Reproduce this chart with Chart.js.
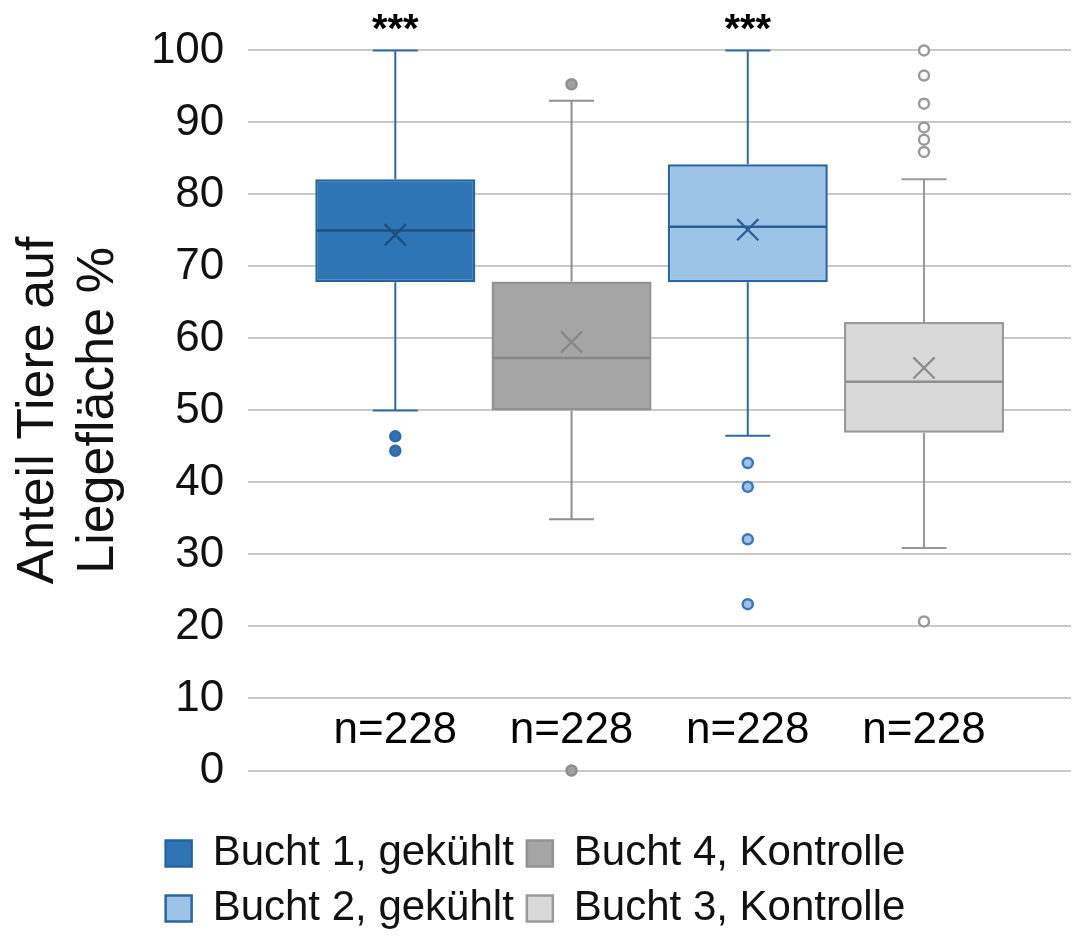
<!DOCTYPE html>
<html>
<head>
<meta charset="utf-8">
<script src="https://cdn.jsdelivr.net/npm/chart.js@4.4.1/dist/chart.umd.min.js"></script>
<style>
    html, body { margin: 0; padding: 0; background: #ffffff; overflow: hidden; }
    #wrap { width: 1073px; height: 943px; }
</style>
</head>
<body>
<div id="wrap"><canvas id="boxChart"></canvas></div>
<script>
// Box plot data
const groups = ['Bucht 1, gekühlt', 'Bucht 4, Kontrolle', 'Bucht 2, gekühlt', 'Bucht 3, Kontrolle'];
const whiskerLow = [50, 34.9, 46.5, 30.9];
const q1 = [67.8, 50, 67.8, 46.9];
const median = [75, 57.3, 75.5, 54];
const q3 = [82.1, 67.9, 84.2, 62.3];
const whiskerHigh = [100, 93, 100, 82.1];
const means = [74.4, 59.5, 75.1, 55.9];
const outliers = [
    [46.4, 44.4],
    [95.3, 0],
    [42.7, 39.4, 32.1, 23.1],
    [100, 96.5, 92.6, 89.3, 87.6, 85.9, 20.7]
];
const sampleSizes = [228, 228, 228, 228];
const significance = ['***', '', '***', ''];
const yTicks = [0, 10, 20, 30, 40, 50, 60, 70, 80, 90, 100];

// Colours per group
const styles = [
    { fill: '#2e75b6', border: '#2763a0', whisker: '#2f6aa6', median: '#1f4f80', mean: '#1f4e79', dotFill: '#2e75b6', dotBorder: '#2e6aa8' },
    { fill: '#a5a5a5', border: '#929292', whisker: '#8f8f8f', median: '#888888', mean: '#868686', dotFill: '#a0a0a0', dotBorder: '#8f8f8f' },
    { fill: '#9dc3e6', border: '#2b65a0', whisker: '#2f6aa6', median: '#2a5f94', mean: '#2b5f94', dotFill: '#9dc3e6', dotBorder: '#3a78b8' },
    { fill: '#d9d9d9', border: '#999999', whisker: '#999999', median: '#8f8f8f', mean: '#8c8c8c', dotFill: '#ffffff', dotBorder: '#999999' }
];

const FONT = '"Liberation Sans", Arial, sans-serif';
Chart.defaults.font.family = FONT;
Chart.defaults.color = '#000000';

const MEAN_INDEX = 0;
const OUTLIER_START = 1;
const BAR_START = OUTLIER_START + groups.length;

// Datasets: drawn last-to-first, so means end up on top
const datasets = [];
datasets.push({
    type: 'scatter',
    label: 'Mittelwert',
    data: means.map((v, i) => ({ x: i + 1, y: v })),
    pointStyle: 'crossRot',
    pointRadius: 15,
    pointBorderWidth: 2.2,
    pointBorderColor: styles.map(s => s.mean),
    pointBackgroundColor: 'rgba(0,0,0,0)',
    clip: false
});
outliers.forEach((vals, i) => {
    datasets.push({
        type: 'scatter',
        label: 'Ausreißer ' + groups[i],
        data: vals.map(v => ({ x: i + 1, y: v })),
        pointRadius: 5,
        pointBorderWidth: 2.5,
        pointBackgroundColor: styles[i].dotFill,
        pointBorderColor: styles[i].dotBorder,
        clip: false
    });
});
groups.forEach((g, i) => {
    datasets.push({
        type: 'bar',
        label: g,
        data: [{ x: i + 1, y: [q1[i], q3[i]] }],
        backgroundColor: styles[i].fill,
        borderColor: styles[i].border,
        borderWidth: 2.5,
        borderSkipped: false,
        grouped: false,
        barPercentage: 0.908,
        categoryPercentage: 1
    });
});

// Whiskers, medians and text labels through the chart scales
const boxPlotExtras = {
    id: 'boxPlotExtras',
    beforeDatasetsDraw(chart) {
        const { ctx, scales: { x, y } } = chart;
        ctx.save();
        ctx.lineWidth = 2;
        groups.forEach((g, i) => {
            const cx = x.getPixelForValue(i + 1);
            const capHalf = 22.5;
            ctx.strokeStyle = styles[i].whisker;
            ctx.beginPath();
            ctx.moveTo(cx, y.getPixelForValue(whiskerHigh[i]));
            ctx.lineTo(cx, y.getPixelForValue(q3[i]));
            ctx.moveTo(cx, y.getPixelForValue(q1[i]));
            ctx.lineTo(cx, y.getPixelForValue(whiskerLow[i]));
            [whiskerHigh[i], whiskerLow[i]].forEach(v => {
                const py = y.getPixelForValue(v);
                ctx.moveTo(cx - capHalf, py);
                ctx.lineTo(cx + capHalf, py);
            });
            ctx.stroke();
        });
        ctx.restore();
    },
    afterDatasetDraw(chart, args) {
        // the first bar dataset is the last bar drawn
        if (args.index !== BAR_START) return;
        const { ctx, scales: { y } } = chart;
        ctx.save();
        ctx.lineWidth = 2.5;
        groups.forEach((g, i) => {
            const bar = chart.getDatasetMeta(BAR_START + i).data[0];
            const py = y.getPixelForValue(median[i]);
            const half = bar.width / 2 - 1.5;
            ctx.strokeStyle = styles[i].median;
            ctx.beginPath();
            ctx.moveTo(bar.x - half, py);
            ctx.lineTo(bar.x + half, py);
            ctx.stroke();
        });
        ctx.restore();
    },
    afterDraw(chart) {
        const { ctx, scales: { x, y } } = chart;
        ctx.save();
        ctx.fillStyle = '#000000';
        ctx.textAlign = 'center';
        ctx.font = '44px ' + FONT;
        ctx.textBaseline = 'middle';
        sampleSizes.forEach((n, i) => {
            ctx.fillText('n=' + n, x.getPixelForValue(i + 1), y.getPixelForValue(5.5));
        });
        ctx.font = 'bold 40px ' + FONT;
        ctx.textBaseline = 'alphabetic';
        significance.forEach((s, i) => {
            if (s) ctx.fillText(s, x.getPixelForValue(i + 1), y.getPixelForValue(100) - 8);
        });
        ctx.restore();
    }
};

const ctx = document.getElementById('boxChart').getContext('2d');
new Chart(ctx, {
    type: 'bar',
    data: { datasets: datasets },
    plugins: [boxPlotExtras],
    options: {
        responsive: true,
        maintainAspectRatio: false,
        animation: false,
        events: [],
        layout: {
            autoPadding: false,
            padding: { left: 0, right: 2, top: 48, bottom: 3.5 }
        },
        scales: {
            x: {
                type: 'linear',
                min: 0.166,
                max: 4.834,
                offset: false,
                grid: { display: false },
                border: { display: false },
                ticks: { display: false, callback: () => '' },
                afterBuildTicks: s => { s.ticks = groups.map((g, i) => ({ value: i + 1 })); },
                afterFit: s => {
                    s.height = 49;
                    s.paddingLeft = 0;
                    s.paddingRight = 0;
                }
            },
            y: {
                min: 0,
                max: 100,
                afterBuildTicks: s => { s.ticks = yTicks.map(v => ({ value: v })); },
                afterFit: s => { s.width = 248.3; },
                grid: { color: '#c9c9c9', lineWidth: 2, drawTicks: false },
                border: { display: false },
                ticks: {
                    padding: 24,
                    color: '#111111',
                    font: { size: 44 }
                },
                title: {
                    display: true,
                    text: ['Anteil Tiere auf', 'Liegefläche %'],
                    color: '#111111',
                    font: { size: 52, lineHeight: 1.15 },
                    padding: { top: 9, bottom: 0 }
                }
            }
        },
        plugins: {
            tooltip: { enabled: false },
            legend: {
                position: 'bottom',
                labels: {
                    filter: item => item.datasetIndex >= BAR_START,
                    boxWidth: 26,
                    boxHeight: 26,
                    padding: 13,
                    color: '#111111',
                    font: { size: 42 }
                }
            }
        }
    }
});
</script>
</body>
</html>
